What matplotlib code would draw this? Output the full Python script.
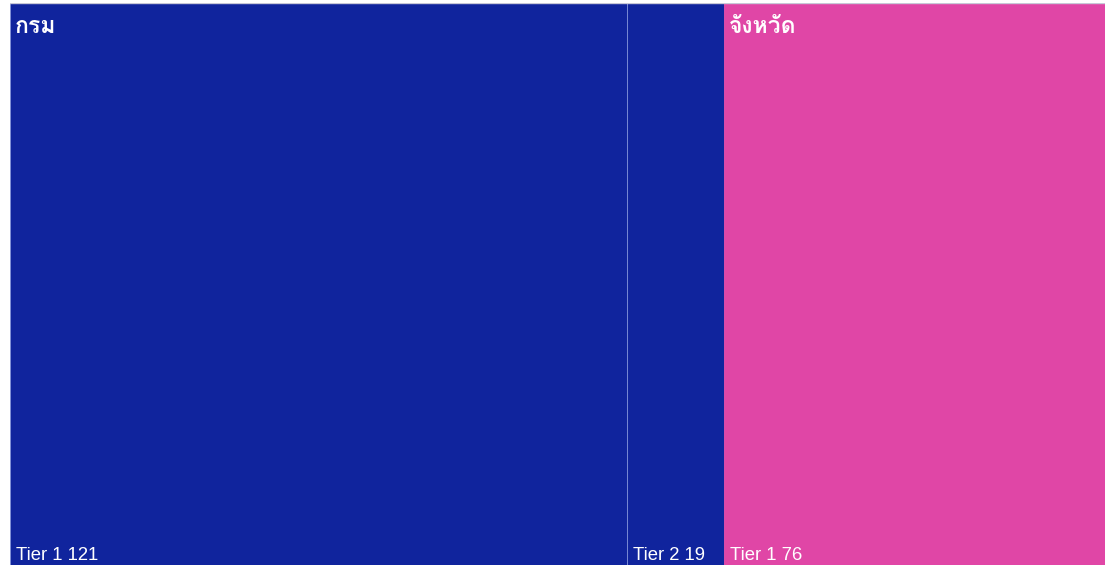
import matplotlib
matplotlib.use("Agg")
import matplotlib.pyplot as plt
from matplotlib import font_manager
from matplotlib.ft2font import FT2Font
from matplotlib.patches import Rectangle

# data
groups = ['กรม', 'กรม', 'จังหวัด']
tiers = ['Tier 1', 'Tier 2', 'Tier 1']
values = [121, 19, 76]
group_colors = {'กรม': '#10249d', 'จังหวัด': '#e046a6'}


# find a font that has Thai glyphs
def thai_font():
    for f in font_manager.fontManager.ttflist:
        try:
            if 0x0E01 in FT2Font(f.fname).get_charmap():
                return f.name
        except Exception:
            pass
    return 'DejaVu Sans'


thai = thai_font()
plt.rcParams['font.family'] = [thai, 'DejaVu Sans']

W, H = 1105, 565
PW = 1102  # plot width in px (runs a bit past the right edge)
fig = plt.figure(figsize=(W / 100, H / 100), dpi=100)
ax = fig.add_axes([10 / W, 0, PW / W, 562 / H])
total = sum(values)
ax.set_xlim(0, total)
ax.set_ylim(0, 1)
ax.axis('off')

x = 0
group_start = {}
for g, t, v in zip(groups, tiers, values):
    ax.add_patch(Rectangle((x, 0), v, 1, facecolor=group_colors[g],
                           edgecolor='#8090d8' if g == 'กรม' else group_colors[g], linewidth=0.6))
    if g not in group_start:
        group_start[g] = x
    ax.text(x + total * 5.5 / PW, 0.002, f'{t} {v}', color='white', fontsize=13.3,
            family='Liberation Sans', va='bottom', ha='left')
    x += v

for g, x0 in group_start.items():
    ax.text(x0 + total * 5 / PW, 0.975, g, color='white', fontsize=16.5,
            fontweight='bold', va='top', ha='left')

# top border line
ax.axhline(1, color='#c8c8d8', linewidth=1)

fig.savefig('out.png', dpi=100)
